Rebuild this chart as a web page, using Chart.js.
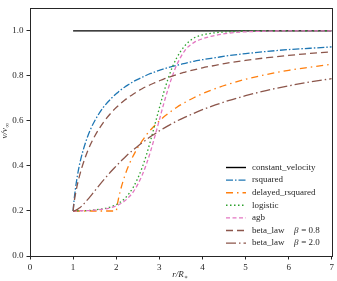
<!DOCTYPE html>
<html>
<head>
<meta charset="utf-8">
<style>
  html, body { margin: 0; padding: 0; background: #fff; }
  #wrap { width: 337px; height: 281px; }
</style>
<script src="https://cdn.jsdelivr.net/npm/chart.js@4.4.1/dist/chart.umd.min.js"></script>
</head>
<body>
<div id="wrap"><canvas id="chart" width="337" height="281"></canvas></div>
<script>
// ---------- data ----------
const rGrid = [1, 1.02, 1.05, 1.1, 1.15, 1.2, 1.3, 1.4, 1.5, 1.7,
  1.9, 2.0, 2.02, 2.05, 2.1, 2.2, 2.3, 2.4, 2.5, 2.6,
  2.7, 2.8, 2.9, 3.0, 3.1, 3.2, 3.3, 3.4, 3.6, 3.8,
  4.0, 4.3, 4.6, 5.0, 5.5, 6.0, 6.5, 7.0];

const rConstant = [1, 7];
const vConstant = [1.0, 1.0];

const vRsquared = [0.2, 0.243, 0.293, 0.357, 0.407, 0.447, 0.511, 0.561, 0.6, 0.66,
  0.703, 0.721, 0.724, 0.729, 0.737, 0.751, 0.763, 0.775, 0.785, 0.794,
  0.803, 0.811, 0.818, 0.825, 0.831, 0.837, 0.842, 0.847, 0.856, 0.865,
  0.872, 0.881, 0.89, 0.899, 0.909, 0.917, 0.923, 0.929];

const vDelayed = [0.2, 0.2, 0.2, 0.2, 0.2, 0.2, 0.2, 0.2, 0.2, 0.2,
  0.2, 0.2, 0.223, 0.252, 0.293, 0.357, 0.407, 0.447, 0.482, 0.511,
  0.538, 0.561, 0.581, 0.6, 0.617, 0.632, 0.647, 0.66, 0.683, 0.703,
  0.721, 0.744, 0.763, 0.785, 0.807, 0.825, 0.839, 0.852];

const vLogistic = [0.201, 0.201, 0.201, 0.201, 0.201, 0.202, 0.202, 0.203, 0.205, 0.21,
  0.22, 0.228, 0.23, 0.233, 0.24, 0.256, 0.278, 0.307, 0.345, 0.392,
  0.449, 0.515, 0.586, 0.657, 0.725, 0.786, 0.838, 0.879, 0.936, 0.968,
  0.982, 0.992, 0.996, 0.999, 1.0, 1.0, 1.0, 1.0];

const vAgb = [0.2, 0.2, 0.2, 0.201, 0.201, 0.201, 0.202, 0.202, 0.204, 0.208,
  0.216, 0.223, 0.224, 0.227, 0.232, 0.245, 0.263, 0.286, 0.318, 0.358,
  0.408, 0.467, 0.534, 0.604, 0.675, 0.74, 0.798, 0.847, 0.915, 0.948,
  0.965, 0.98, 0.99, 0.996, 0.999, 1.0, 1.0, 1.0];

const vBeta08 = [0.2, 0.234, 0.27, 0.318, 0.357, 0.391, 0.448, 0.494, 0.532, 0.593,
  0.64, 0.66, 0.663, 0.668, 0.677, 0.693, 0.707, 0.72, 0.732, 0.743,
  0.753, 0.762, 0.77, 0.778, 0.786, 0.793, 0.799, 0.806, 0.817, 0.827,
  0.836, 0.847, 0.858, 0.869, 0.881, 0.891, 0.9, 0.907];

const vBeta20 = [0.2, 0.2, 0.202, 0.207, 0.214, 0.222, 0.243, 0.265, 0.289, 0.336,
  0.38, 0.4, 0.404, 0.41, 0.42, 0.438, 0.456, 0.472, 0.488, 0.503,
  0.517, 0.531, 0.543, 0.556, 0.567, 0.578, 0.589, 0.599, 0.617, 0.634,
  0.65, 0.671, 0.69, 0.712, 0.736, 0.756, 0.773, 0.788];

const seriesLabels = ['constant_velocity', 'rsquared', 'delayed_rsquared', 'logistic', 'agb',
  'beta_law|β = 0.8', 'beta_law|β = 2.0'];

const xTicks = [0, 1, 2, 3, 4, 5, 6, 7];
const yTicks = [0.0, 0.2, 0.4, 0.6, 0.8, 1.0];

const SERIF = '"Liberation Serif", "DejaVu Serif", serif';
const INK = '#262626';

function pairs(xs, ys) {
  return xs.map((x, i) => ({ x: x, y: ys[i] }));
}

function series(label, xs, ys, color, dash, order) {
  return {
    label: label,
    data: pairs(xs, ys),
    borderColor: color,
    backgroundColor: color,
    borderWidth: 1.3,
    borderDash: dash,
    pointRadius: 0,
    showLine: true,
    fill: false,
    cubicInterpolationMode: 'monotone',
    order: order,
  };
}

// ---------- frame, legend and axis titles ----------
const decorPlugin = {
  id: 'decor',
  afterDraw(chart) {
    const ctx = chart.ctx;
    const a = chart.chartArea;
    ctx.save();
    ctx.strokeStyle = INK;
    ctx.lineWidth = 1;
    ctx.setLineDash([]);
    ctx.strokeRect(Math.round(a.left) + 0.5, Math.round(a.top) + 0.5,
      Math.round(a.right - a.left), Math.round(a.bottom - a.top));

    // legend inside the lower right of the plot
    const top = 167.5;
    const rowH = 12.6;
    chart.data.datasets.forEach((ds, i) => {
      const y = top + i * rowH;
      ctx.beginPath();
      ctx.strokeStyle = ds.borderColor;
      ctx.lineWidth = 1.4;
      ctx.setLineDash(ds.borderDash || []);
      ctx.moveTo(226, y);
      ctx.lineTo(246, y);
      ctx.stroke();
      ctx.setLineDash([]);
      const parts = ds.label.split('|');
      ctx.fillStyle = INK;
      ctx.textBaseline = 'middle';
      ctx.textAlign = 'left';
      ctx.font = '9px ' + SERIF;
      ctx.fillText(parts[0], 252, y);
      if (parts[1]) {
        ctx.font = 'italic 9px ' + SERIF;
        ctx.fillText('β', 294, y);
        ctx.font = '9px ' + SERIF;
        ctx.fillText(parts[1].slice(1), 299, y);
      }
    });

    // axis titles
    ctx.fillStyle = INK;
    ctx.font = 'italic 9px ' + SERIF;
    ctx.textAlign = 'center';
    ctx.textBaseline = 'middle';
    ctx.fillText('r/R', 178, 275);
    ctx.font = 'italic 6px ' + SERIF;
    ctx.fillText('∗', 186, 277);

    ctx.translate(5, 131);
    ctx.rotate(-Math.PI / 2);
    ctx.font = 'italic 9px ' + SERIF;
    ctx.textAlign = 'right';
    ctx.fillText('v/v', 3, 0);
    ctx.font = 'italic 6px ' + SERIF;
    ctx.textAlign = 'left';
    ctx.fillText('∞', 3.5, 2);
    ctx.restore();
  },
};

function initChart() {
  const el = document.getElementById('chart');
  new Chart(el, {
    type: 'scatter',
    data: {
      datasets: [
        series(seriesLabels[0], rConstant, vConstant, '#000000', [], 7),
        series(seriesLabels[1], rGrid, vRsquared, '#1f77b4', [7, 2, 1.5, 2], 6),
        series(seriesLabels[2], rGrid, vDelayed, '#ff7f0e', [7, 4, 1.5, 4], 5),
        series(seriesLabels[3], rGrid, vLogistic, '#2ca02c', [1.5, 2.5], 4),
        series(seriesLabels[4], rGrid, vAgb, '#e377c2', [4, 2.5], 3),
        series(seriesLabels[5], rGrid, vBeta08, '#8c564b', [7, 4], 2),
        series(seriesLabels[6], rGrid, vBeta20, '#8c564b', [10, 3, 1.5, 3], 1),
      ],
    },
    options: {
      responsive: false,
      animation: false,
      devicePixelRatio: 1,
      layout: { padding: { top: 5, right: 5, left: 0, bottom: 0 } },
      plugins: {
        legend: { display: false },
        tooltip: { enabled: false },
      },
      scales: {
        x: {
          type: 'linear',
          min: 0,
          max: 7,
          afterFit: (s) => { s.height = 25; },
          afterBuildTicks: (s) => { s.ticks = xTicks.map((v) => ({ value: v })); },
          grid: { drawOnChartArea: false, drawTicks: true, tickLength: 3.5, color: INK },
          border: { display: false },
          ticks: {
            color: INK,
            padding: 3,
            maxRotation: 0,
            font: { family: SERIF, size: 9 },
            callback: (v) => String(v),
          },
        },
        y: {
          type: 'linear',
          min: 0,
          max: 1.1,
          afterFit: (s) => { s.width = 30; },
          afterBuildTicks: (s) => { s.ticks = yTicks.map((v) => ({ value: v })); },
          grid: { drawOnChartArea: false, drawTicks: true, tickLength: 3.5, color: INK },
          border: { display: false },
          ticks: {
            color: INK,
            padding: 3,
            font: { family: SERIF, size: 9 },
            callback: (v) => Number(v).toFixed(1),
          },
        },
      },
    },
    plugins: [decorPlugin],
  });
}

initChart();
</script>
</body>
</html>
